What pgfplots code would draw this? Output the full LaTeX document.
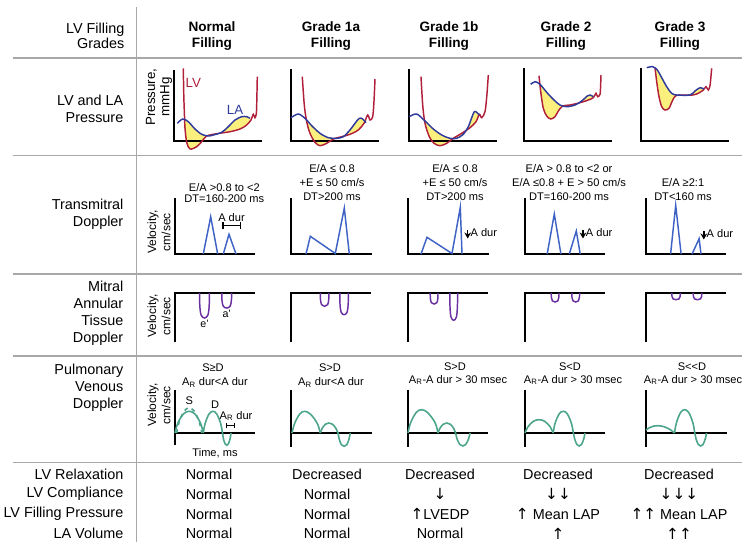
\documentclass[border=0pt]{standalone}
\usepackage{fontspec}
\setmainfont{Liberation Sans}
\newfontfamily\arrowfont{DejaVu Sans}
\usepackage{pgfplots}
\pgfplotsset{compat=1.18}
\usetikzlibrary{arrows.meta}

\definecolor{lvred}{HTML}{B0203A}
\definecolor{lablue}{HTML}{2E3A9C}
\definecolor{fillyel}{HTML}{FBF07E}
\definecolor{mvblue}{HTML}{3F63C4}
\definecolor{tdpurple}{HTML}{6A2FA0}
\definecolor{pvteal}{HTML}{4DA58C}
\definecolor{sepgray}{HTML}{A8A8A8}

\newcommand\mainfs{\fontsize{10.8}{12.8}\selectfont}
\newcommand\headfs{\fontsize{10.2}{11.3}\selectfont}
\newcommand\annfs{\fontsize{8.3}{10.5}\selectfont}
\newcommand\labfs{\fontsize{9}{10.7}\selectfont}
\newcommand\up{{\arrowfont\fontsize{11.5}{12}\selectfont ↑}}
\newcommand\dn{{\arrowfont\fontsize{11.5}{12}\selectfont ↓}}

\tikzset{
  sep/.style={draw=sepgray, line width=1.1pt},
  axl/.style={line width=1.4pt, black, line join=miter},
  lv/.style={lvred, line width=1.1pt, smooth, tension=0.5},
  la/.style={lablue, line width=1.1pt, smooth, tension=0.5},
  yf/.style={fill=fillyel, draw=none, smooth, tension=0.5},
  mv/.style={mvblue, line width=1.1pt, sharp plot},
  td/.style={tdpurple, line width=1.1pt, smooth, tension=0.6},
  pv/.style={pvteal, line width=1.2pt, smooth, tension=0.6},
  dnar/.style={-{Stealth[length=4.5pt,width=5pt]}, line width=1.1pt, black},
}
% one picture pixel = 0.75pt; "at" is given in pt (x*0.75, -y*0.75)
\pgfplotsset{
  mini/.style={hide axis, clip=false, x=0.75pt, y=0.75pt, xmin=0, anchor=south west},
  r1/.style={mini, xmax=88, ymin=0, ymax=72},
  r2/.style={mini, xmax=80, ymin=0, ymax=60},
  r3/.style={mini, xmax=80, ymin=-50, ymax=0},
  r4/.style={mini, xmax=80, ymin=-13, ymax=44},
}

\begin{document}
\begin{tikzpicture}[x=0.75pt,y=-0.75pt]
\useasboundingbox (0,0) rectangle (742,542);

% table rules
\draw[sep] (12.7,58) -- (742,58);
\draw[sep] (12.7,155.5) -- (742,155.5);
\draw[sep] (12.7,274) -- (742,274);
\draw[sep] (12.7,356) -- (742,356);
\draw[sep] (12.7,462.5) -- (742,462.5);
\draw[sep] (136.7,7) -- (136.7,542);

% header
\node[anchor=east, align=right, font=\fontsize{10.8}{11.3}\selectfont] at (129,36) {LV Filling\\Grades};
\foreach \cx/\txt in {212/Normal, 331/Grade 1a, 449/Grade 1b, 566/Grade 2, 680/Grade 3}
  \node[align=center, font=\headfs\bfseries] at (\cx,36) {\txt\\Filling};

% row labels
\node[anchor=east, align=right, font=\mainfs] at (128,109) {LV and LA\\Pressure};
\node[anchor=east, align=right, font=\mainfs] at (128,214) {Transmitral\\Doppler};
\node[anchor=east, align=right, font=\mainfs] at (128,313) {Mitral\\Annular\\Tissue\\Doppler};
\node[anchor=east, align=right, font=\mainfs] at (128,388) {Pulmonary\\Venous\\Doppler};

% ---------------- row 1: LV and LA pressure ----------------
\node[rotate=90, align=center, font=\fontsize{10}{10.7}\selectfont] at (159,97) {Pressure,\\mmHg};

\begin{axis}[r1, at={(130.5pt,-105.75pt)}]
\addplot[yf] coordinates {(10.7,21.3) (14.3,19.3) (21,12) (27.7,6.7) (34.3,5) (39.3,6) (47.7,8.7) (54.3,14.3) (61,21) (67.7,24.3) (72.7,24.3) (76,22.7) (77,21) (72.7,16) (66,12) (56,9.3) (42.7,7.3) (32.7,5) (27.7,-0.7) (22.7,-5.7) (16,-8) (12.7,-1.3) (11,12.7)} -- cycle;
\draw[axl] (axis cs:0,71) -- (axis cs:0,0) -- (axis cs:88,0);
\addplot[lv] coordinates {(9.3,72.7) (9.8,45) (10.5,25) (11,12.7) (12.7,-1.3) (16,-8) (22.7,-5.7) (27.7,-0.7) (32.7,5) (42.7,7.3) (56,9.3) (66,12) (72.7,16) (77,21) (79.3,26.7) (81,23.3) (82.4,28) (82.9,45) (83.3,64.3)};
\addplot[la] coordinates {(3.3,17.7) (8.7,22) (14.3,19.3) (21,12) (27.7,6.7) (34.3,5) (39.3,6) (47.7,8.7) (54.3,14.3) (61,21) (67.7,24.3) (72.7,24.3) (76,22.7)};
\node[lvred, font=\fontsize{10}{12}\selectfont] at (axis cs:19.3,57.7) {LV};
\node[lablue, font=\fontsize{10}{12}\selectfont] at (axis cs:61,31) {LA};
\end{axis}

\begin{axis}[r1, at={(218.25pt,-105.75pt)}]
\addplot[yf] coordinates {(15.2,22) (20.7,15.3) (29,7.7) (37.3,3.3) (45.7,2.7) (52.3,4.3) (59,11) (64,17.7) (68.3,22.7) (71.7,22) (75,18.3) (73,17.7) (67.3,11) (59,6.7) (50.7,4.3) (42.3,2) (35.7,-2.3) (29,-4.7) (24,-1.3) (19,7.7)} -- cycle;
\draw[axl] (axis cs:0,72) -- (axis cs:0,0) -- (axis cs:88,0);
\addplot[lv] coordinates {(11.3,64.3) (13.3,36) (15.7,19.3) (19,7.7) (24,-1.3) (29,-4.7) (35.7,-2.3) (42.3,2) (50.7,4.3) (59,6.7) (67.3,11) (73,17.7) (76.7,26) (79,21) (81.7,24.3) (83,40) (84,62)};
\addplot[la] coordinates {(0,23.3) (7.3,27) (14,22.7) (20.7,15.3) (29,7.7) (37.3,3.3) (45.7,2.7) (52.3,4.3) (59,11) (64,17.7) (68.3,22.7) (71.7,22) (75,18.3)};
\end{axis}

\begin{axis}[r1, at={(306.75pt,-105.75pt)}]
\addplot[yf] coordinates {(15.6,20.5) (24.3,12) (32.7,6) (41,2.7) (47.7,2.7) (54.3,6.7) (59.3,14.3) (62.7,23.3) (65.3,29.3) (67.7,28.7) (70.3,26) (67,19.3) (61,13.3) (52.7,7.7) (44.3,2.7) (37.7,-2.3) (31,-4.7) (25,-2.3) (20.3,4.3)} -- cycle;
\draw[axl] (axis cs:0,72) -- (axis cs:0,0) -- (axis cs:88,0);
\addplot[lv] coordinates {(12,64.3) (13.7,36) (16,17.7) (20.3,4.3) (25,-2.3) (31,-4.7) (37.7,-2.3) (44.3,2.7) (52.7,7.7) (61,13.3) (67,19.3) (70.3,26.7) (72.7,23.3) (76,29.3) (77.8,45) (79.3,66)};
\addplot[la] coordinates {(0.3,24.3) (7.7,27) (16,20) (24.3,12) (32.7,6) (41,2.7) (47.7,2.7) (54.3,6.7) (59.3,14.3) (62.7,23.3) (65.3,29.3) (67.7,28.7) (70.3,26)};
\end{axis}

\begin{axis}[r1, at={(393pt,-105.75pt)}]
\addplot[yf] coordinates {(16,56.5) (22.7,48.7) (29.3,41.7) (36,36) (42.7,34.3) (51,36) (57.7,40) (63.3,45) (66,46) (69.3,44.3) (64.3,41) (56,38.3) (46,36) (38.7,35) (34.3,30) (31,24.3) (26.7,22) (22.7,25) (19.3,32.7)} -- cycle;
\draw[axl] (axis cs:0,72.7) -- (axis cs:0,0) -- (axis cs:88,0);
\addplot[lv] coordinates {(15,65.3) (16.7,49.3) (19.3,32.7) (22.7,25) (26.7,22) (31,24.3) (34.3,30) (38.7,35) (46,36) (56,38.3) (64.3,41) (69.3,43.3) (72,47.7) (73.7,44.3) (76,46.7) (76.6,55) (77,66)};
\addplot[la] coordinates {(6.7,56.7) (11,59.3) (16,56.7) (22.7,48.7) (29.3,41.7) (36,36) (42.7,34.3) (51,36) (57.7,40) (63.3,45) (66,46) (69.3,44.3)};
\end{axis}

\begin{axis}[r1, at={(480.75pt,-105.75pt)}]
\addplot[yf] coordinates {(14.3,72.5) (16.3,71) (20.7,63.3) (25.7,54.3) (30.7,47.7) (35.7,46) (49,46) (54,50) (59,53.3) (63,52) (62.3,51) (57.3,47.7) (51.7,46) (42.3,46) (34.7,45.3) (31.3,40) (28,32.7) (24,31) (20.7,34.3) (18,44.3) (15.7,59.3)} -- cycle;
\draw[axl] (axis cs:0,72.7) -- (axis cs:0,0) -- (axis cs:88,0);
\addplot[lv] coordinates {(14,73.3) (15.7,59.3) (18,44.3) (20.7,34.3) (24,31) (28,32.7) (31.3,40) (34.7,45.3) (42.3,46) (51.7,46) (57.3,47.7) (62.3,51) (65,54.3) (67.3,51) (69,55.3) (69.9,64) (70.7,72.7)};
\addplot[la] coordinates {(5.7,73.3) (11.7,74.3) (16.3,71) (20.7,63.3) (25.7,54.3) (30.7,47.7) (35.7,46) (49,46) (54,50) (59,53.3) (63,52)};
\end{axis}

% ---------------- row 2: transmitral Doppler ----------------
\node[rotate=90, align=center, font=\labfs] at (159,232) {Velocity,\\cm/sec};

\node[font=\annfs] at (224.3,187.3) {E/A >0.8 to <2};
\node[font=\annfs] at (224.3,198.8) {DT=160-200 ms};
\node[align=center, font=\annfs] at (332,183) {E/A ≤ 0.8\\+E ≤ 50 cm/s\\DT>200 ms};
\node[align=center, font=\annfs] at (455,183) {E/A ≤ 0.8\\+E ≤ 50 cm/s\\DT>200 ms};
\node[align=center, font=\annfs] at (569,183) {E/A > 0.8 to <2 or\\E/A ≤0.8 + E > 50 cm/s\\DT=160-200 ms};
\node[align=center, font=\annfs] at (683,189.5) {E/A ≥2:1\\DT<160 ms};

\begin{axis}[r2, at={(131.25pt,-190.5pt)}]
\draw[axl] (axis cs:0,56) -- (axis cs:0,0) -- (axis cs:80,0);
\addplot[mv] coordinates {(28.3,0) (35.7,37.3) (42.7,0)};
\addplot[mv] coordinates {(48.3,0) (54,19.7) (61,0)};
\draw[{Bar[width=5pt]}-{Bar[width=5pt]}, line width=0.9pt] (axis cs:47.3,28.3) -- (axis cs:65.7,28.3);
\node[font=\annfs] at (axis cs:56.5,36.5) {A dur};
\end{axis}

\begin{axis}[r2, at={(218.25pt,-190.5pt)}]
\draw[axl] (axis cs:0,56) -- (axis cs:0,0) -- (axis cs:81,0);
\addplot[mv] coordinates {(15,0) (19.3,17.7) (44.3,0.5) (53.3,46) (58.3,0)};
\end{axis}

\begin{axis}[r2, at={(306pt,-190.5pt)}]
\draw[axl] (axis cs:0,56) -- (axis cs:0,0) -- (axis cs:81,0);
\addplot[mv] coordinates {(13,0) (19,16.7) (44,0.5) (52.3,46.7) (54,0)};
\draw[dnar] (axis cs:59.7,24) -- (axis cs:59.7,15.5);
\node[anchor=west, font=\annfs, inner sep=1pt] at (axis cs:61,21.5) {A dur};
\end{axis}

\begin{axis}[r2, at={(393.75pt,-190.5pt)}]
\draw[axl] (axis cs:0,56) -- (axis cs:0,0) -- (axis cs:80,0);
\addplot[mv] coordinates {(22.2,0) (29.3,40) (35.9,0)};
\addplot[mv] coordinates {(44.3,0) (51.3,23) (55.2,0)};
\draw[dnar] (axis cs:58,24) -- (axis cs:58,15.5);
\node[anchor=west, font=\annfs, inner sep=1pt] at (axis cs:59.3,21.5) {A dur};
\end{axis}

\begin{axis}[r2, at={(484.5pt,-190.5pt)}]
\draw[axl] (axis cs:0,56) -- (axis cs:0,0) -- (axis cs:80,0);
\addplot[mv] coordinates {(24.6,0) (29.7,48.7) (35.1,0)};
\addplot[mv] coordinates {(46.1,0) (53.1,15.3) (55,0)};
\draw[dnar] (axis cs:57.8,23) -- (axis cs:57.8,14.5);
\node[anchor=west, font=\annfs, inner sep=1pt] at (axis cs:59.1,20.5) {A dur};
\end{axis}

% ---------------- row 3: mitral annular tissue Doppler ----------------
\node[rotate=90, align=center, font=\labfs] at (159,316) {Velocity,\\cm/sec};

\begin{axis}[r3, at={(131.25pt,-257.25pt)}]
\draw[axl] (axis cs:0,-49.4) -- (axis cs:0,0) -- (axis cs:80,0);
\addplot[td] coordinates {(24.6,0) (24.8,-12.5) (26.1,-22) (29.5,-25) (32.9,-22) (34.2,-12.5) (34.4,0)};
\addplot[td] coordinates {(46.8,0) (47,-7.5) (48.3,-13.2) (51.7,-15) (55.1,-13.2) (56.4,-7.5) (56.6,0)};
\node[font=\fontsize{8}{9}\selectfont] at (axis cs:29.5,-31) {e'};
\node[font=\fontsize{8}{9}\selectfont] at (axis cs:51.7,-20.5) {a'};
\end{axis}

\begin{axis}[r3, at={(218.25pt,-257.25pt)}]
\draw[axl] (axis cs:0,-49.4) -- (axis cs:0,0) -- (axis cs:80,0);
\addplot[td] coordinates {(29.3,0) (29.5,-6.7) (30.6,-11.7) (33.6,-13.3) (36.6,-11.7) (37.7,-6.7) (37.9,0)};
\addplot[td] coordinates {(48.8,0) (49,-10.9) (50.1,-19.1) (53.1,-21.7) (56.1,-19.1) (57.2,-10.9) (57.4,0)};
\end{axis}

\begin{axis}[r3, at={(306pt,-257.25pt)}]
\draw[axl] (axis cs:0,-49.4) -- (axis cs:0,0) -- (axis cs:80,0);
\addplot[td] coordinates {(22.2,0) (22.4,-5.5) (23.4,-9.7) (26.1,-11) (28.8,-9.7) (29.8,-5.5) (30,0)};
\addplot[td] coordinates {(41.8,0) (42,-13.7) (43,-24) (45.7,-27.3) (48.4,-24) (49.4,-13.7) (49.6,0)};
\end{axis}

\begin{axis}[r3, at={(393.75pt,-257.25pt)}]
\draw[axl] (axis cs:0,-49.4) -- (axis cs:0,0) -- (axis cs:80,0);
\addplot[td] coordinates {(26.2,0) (26.4,-4.5) (27.4,-7.9) (30.1,-9) (32.8,-7.9) (33.8,-4.5) (34,0)};
\addplot[td] coordinates {(46.8,0) (47,-4.5) (48,-7.9) (50.7,-9) (53.4,-7.9) (54.4,-4.5) (54.6,0)};
\end{axis}

\begin{axis}[r3, at={(484.5pt,-257.25pt)}]
\draw[axl] (axis cs:0,-49.4) -- (axis cs:0,0) -- (axis cs:80,0);
\addplot[td] coordinates {(25.8,0) (26,-3.4) (27.1,-5.9) (30,-6.7) (33,-5.9) (34.1,-3.4) (34.3,0)};
\addplot[td] coordinates {(47.2,0) (47.4,-3.4) (48.5,-5.9) (51.5,-6.7) (54.5,-5.9) (55.6,-3.4) (55.8,0)};
\end{axis}

% ---------------- row 4: pulmonary venous Doppler ----------------
\node[rotate=90, align=center, font=\labfs] at (159,405) {Velocity,\\cm/sec};

\node[font=\annfs] at (213,368) {S≥D};
\node[font=\annfs] at (215,382.3) {A\textsubscript{R} dur<A dur};
\node[font=\annfs] at (330,368) {S>D};
\node[font=\annfs] at (331,382.3) {A\textsubscript{R} dur<A dur};
\node[font=\annfs] at (455,367) {S>D};
\node[font=\annfs] at (458,380) {A\textsubscript{R}-A dur > 30 msec};
\node[font=\annfs] at (570,367) {S<D};
\node[font=\annfs] at (573,380) {A\textsubscript{R}-A dur > 30 msec};
\node[font=\annfs] at (692,367) {S<{}<D};
\node[font=\annfs] at (693,380) {A\textsubscript{R}-A dur > 30 msec};
\node[font=\annfs] at (215,453.3) {Time, ms};

\begin{axis}[r4, at={(131.25pt,-334.5pt)}]
\draw[axl] (axis cs:0,43.3) -- (axis cs:0,-12.3);
\draw[axl] (axis cs:0,0) -- (axis cs:80,0);
\addplot[pv, dashed] coordinates {(1.7,0) (4.2,11.2) (9.2,22) (14.2,25) (19.2,22) (24.2,11.2) (26.7,0)};
\addplot[pv] coordinates {(0,0) (2.8,9.8) (8.5,19.1) (14.2,21.7) (19.8,19.1) (25.5,9.8) (28.3,0)};
\addplot[pv] coordinates {(28.3,0) (30.2,9.8) (34.1,19.1) (37.9,21.7) (41.7,19.1) (45.6,9.8) (47.5,0) (48.35,-5.5) (50.1,-10.8) (51.75,-12.3) (53.4,-10.8) (55.15,-5.5) (56,0)};
\draw[{Bar[width=4pt]}-{Bar[width=4pt]}, line width=0.9pt] (axis cs:51,7.6) -- (axis cs:60,7.6);
\node[font=\annfs] at (axis cs:61,17) {A\textsubscript{R} dur};
\node[font=\annfs] at (axis cs:14.3,32.3) {S};
\node[font=\annfs] at (axis cs:40,28.3) {D};
\end{axis}

\begin{axis}[r4, at={(218.25pt,-334.5pt)}]
\draw[axl] (axis cs:0,43.3) -- (axis cs:0,-14);
\draw[axl] (axis cs:0,0) -- (axis cs:81,0);
\addplot[pv] coordinates {(1,0) (3.6,9.5) (8.6,18.8) (13.5,21.7) (19.5,18.8) (26.3,9.5) (29.3,0)};
\addplot[pv] coordinates {(29.3,0) (31.1,4.5) (34.4,8.8) (37.8,10) (41.4,8.8) (45,4.5) (47,0) (48.2,-6) (50.4,-11.7) (53.1,-13.3) (55.8,-11.7) (58,-6) (59.3,0)};
\end{axis}

\begin{axis}[r4, at={(306pt,-334.5pt)}]
\draw[axl] (axis cs:0,43.3) -- (axis cs:0,-14);
\draw[axl] (axis cs:0,0) -- (axis cs:80,0);
\addplot[pv] coordinates {(0,0) (2.7,10.5) (8.2,20.5) (13.5,23.3) (19.5,20.5) (27,10.5) (30,0)};
\addplot[pv] coordinates {(30,0) (31.8,4.5) (35.3,8.8) (38.8,10) (42.3,8.8) (45.8,4.5) (47.6,0) (49,-5.8) (51.9,-11.5) (54.8,-13) (57.7,-11.5) (60.6,-5.8) (62,0)};
\end{axis}

\begin{axis}[r4, at={(393.75pt,-334.5pt)}]
\draw[axl] (axis cs:0,43.3) -- (axis cs:0,-14);
\draw[axl] (axis cs:0,0) -- (axis cs:80,0);
\addplot[pv] coordinates {(0,0) (2.8,6) (8.4,11.7) (14,13.3) (19.7,11.7) (25.3,6) (28.1,0)};
\addplot[pv] coordinates {(28.1,0) (30.1,9.8) (34.2,19.1) (38.25,21.7) (42.3,19.1) (46.4,9.8) (48.4,0) (49.6,-5.8) (51.9,-11.5) (54.2,-13) (56.5,-11.5) (58.8,-5.8) (60,0)};
\end{axis}

\begin{axis}[r4, at={(484.5pt,-334.5pt)}]
\draw[axl] (axis cs:0,43.3) -- (axis cs:0,-14);
\draw[axl] (axis cs:0,0) -- (axis cs:81,0);
\addplot[pv] coordinates {(0,3) (3,5) (8,7) (12,7.3) (18,6.3) (24,3.5) (28.5,0)};
\addplot[pv] coordinates {(28.5,0) (30.5,10.5) (34.6,20.5) (38.65,23.3) (42.7,20.5) (46.8,10.5) (48.8,0) (50,-5.8) (52.3,-11.5) (54.65,-13) (57,-11.5) (59.3,-5.8) (60.5,0)};
\end{axis}

% ---------------- summary rows ----------------
\foreach \yy/\lab in {474/LV Relaxation, 494/LV Compliance, 514/LV Filling Pressure, 533.5/LA Volume}
  \node[anchor=east, font=\mainfs] at (128,\yy) {\lab};
\foreach \cx/\a/\b/\c/\d in {209/Normal/Normal/Normal/Normal,
    327/Decreased/Normal/Normal/Normal,
    440/Decreased/\dn/\up LVEDP/Normal,
    558/Decreased/\dn\dn/\up\ Mean LAP/\up,
    679/Decreased/\dn\dn\dn/\up\up\ Mean LAP/\up\up}{
  \node[font=\mainfs] at (\cx,474) {\a};
  \node[font=\mainfs] at (\cx,494) {\b};
  \node[font=\mainfs] at (\cx,514) {\c};
  \node[font=\mainfs] at (\cx,533.5) {\d};
}
\end{tikzpicture}
\end{document}
